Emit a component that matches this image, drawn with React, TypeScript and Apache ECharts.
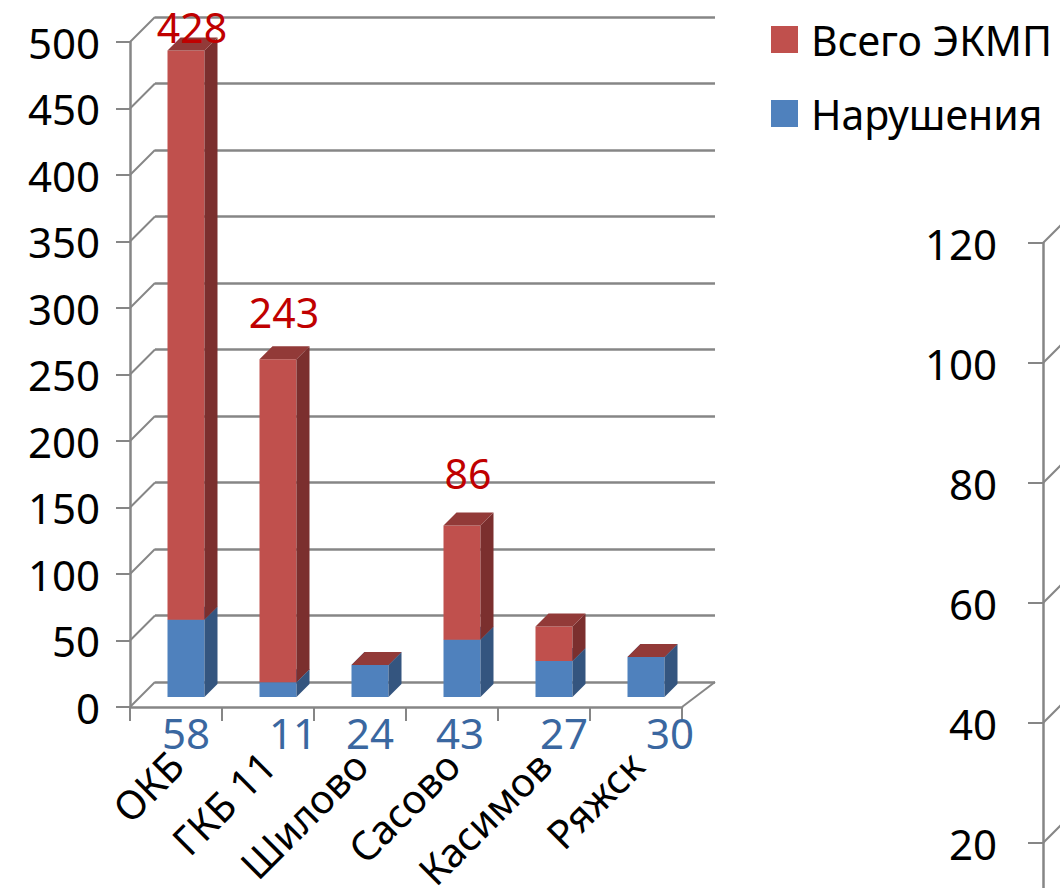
import React, { useEffect, useRef } from "react";
import * as echarts from "echarts";

const categories = ["ОКБ", "ГКБ 11", "Шилово", "Сасово", "Касимов", "Ряжск"];
const violations = [58, 11, 24, 43, 27, 30]; // Нарушения
const totalEkmp = [428, 243, 0, 86, 26, 0]; // Всего ЭКМП (stacked on top)
const leftTicks = [0, 50, 100, 150, 200, 250, 300, 350, 400, 450, 500];
const rightTicks = [0, 20, 40, 60, 80, 100, 120];

// label style tweaks (pixel offsets only)
const blueLabelDx = [0, 15, 0, -2, 10, 24];
const redLabelLift = [24, 47, 30, 52, 30, 30];

const FONT = "Noto Sans";
const GRID_COLOR = "#868686";
const DX = 25;
const DY = -25;
const BX = 10;
const BY = -10;
const BW = 37;
const BD = 13;

const BLUE = { front: "#4F81BD", side: "#34557F", top: "#3F6A9E" };
const RED = { front: "#C0504D", side: "#7B2F2E", top: "#923A38" };

function makeBarRender(col: typeof BLUE, isRed: boolean) {
  return (params: any, api: any) => {
    const i = api.value(0);
    const base = api.value(1);
    const val = api.value(2);
    const pb = api.coord([i, base]);
    const pt = api.coord([i, base + val]);
    const p0 = api.coord([i, 0]);
    const cx = pb[0] + BX;
    const yb = pb[1] + BY;
    const yt = pt[1] + BY;
    const x0 = cx - BW / 2;
    const x1 = cx + BW / 2;
    const children: any[] = [
      {
        type: "rect",
        shape: { x: x0, y: yt, width: BW, height: Math.max(0, yb - yt) },
        style: { fill: col.front },
      },
      {
        type: "polygon",
        shape: { points: [[x1, yb], [x1 + BD, yb - BD], [x1 + BD, yt - BD], [x1, yt]] },
        style: { fill: col.side },
      },
      {
        type: "polygon",
        shape: { points: [[x0, yt], [x1, yt], [x1 + BD, yt - BD], [x0 + BD, yt - BD]] },
        style: { fill: col.top },
      },
    ];
    if (isRed) {
      if (val >= 50) {
        children.push({
          type: "text",
          x: cx + 6,
          y: yt - redLabelLift[i],
          style: {
            text: String(val),
            fill: "#C00000",
            fontSize: 41,
            fontFamily: FONT,
            align: "center",
            verticalAlign: "middle",
          },
        });
      }
    } else {
      children.push({
        type: "text",
        x: cx + blueLabelDx[i],
        y: p0[1] + 25,
        style: {
          text: String(val),
          fill: "#3A67A0",
          fontSize: 42,
          fontFamily: FONT,
          align: "center",
          verticalAlign: "middle",
        },
      });
    }
    return { type: "group", children };
  };
}

function diagRender(withFloorEdge: boolean, backWidth: number) {
  return (params: any, api: any) => {
    const v = api.value(0);
    const cs = params.coordSys;
    const y = api.coord([0, v])[1];
    const children: any[] = [
      {
        type: "line",
        shape: { x1: cs.x, y1: y, x2: cs.x + DX, y2: y + DY },
        style: { stroke: GRID_COLOR, lineWidth: 2 },
      },
    ];
    if (withFloorEdge && v === 0) {
      children.push({
        type: "line",
        shape: { x1: cs.x + cs.width, y1: y, x2: cs.x + DX + backWidth, y2: y + DY },
        style: { stroke: GRID_COLOR, lineWidth: 2 },
      });
    }
    return { type: "group", children };
  };
}

export default function App() {
  const ref = useRef<HTMLDivElement>(null);
  useEffect(() => {
    if (!ref.current) return;
    const chart = echarts.init(ref.current, null, { renderer: "svg" });
    const backWidth = 560;
    chart.setOption({
      animation: false,
      backgroundColor: "#ffffff",
      textStyle: { fontFamily: FONT },
      legend: {
        orient: "vertical",
        left: 771,
        top: 19,
        itemWidth: 27,
        itemHeight: 27,
        itemGap: 33,
        icon: "rect",
        padding: 0,
        data: ["Всего ЭКМП", "Нарушения"],
        textStyle: {
          fontSize: 41,
          color: "#000",
          fontFamily: FONT,
          lineHeight: 27,
          padding: [0, 0, 0, 8],
        },
      },
      grid: [
        { left: 130, top: 42, width: 552, height: 665, outerBoundsMode: "none", containLabel: false },
        { left: 130 + DX, top: 42 + DY, width: backWidth, height: 665, outerBoundsMode: "none", containLabel: false },
        { left: 1043, top: 243, width: 200, height: 720, outerBoundsMode: "none", containLabel: false },
      ],
      xAxis: [
        {
          gridIndex: 0,
          type: "category",
          data: categories,
          axisLine: { lineStyle: { color: GRID_COLOR, width: 2.5 } },
          axisTick: { show: true, length: 14, lineStyle: { color: GRID_COLOR, width: 2 } },
          axisLabel: {
            rotate: 45,
            interval: 0,
            margin: 51,
            fontSize: 40,
            color: "#000",
            fontFamily: FONT,
          },
        },
        { gridIndex: 1, type: "category", data: categories, show: false },
        { gridIndex: 2, type: "category", data: [""], show: false },
      ],
      yAxis: [
        {
          gridIndex: 0,
          type: "value",
          min: 0,
          max: 500,
          interval: 50,
          axisLine: { show: true, lineStyle: { color: GRID_COLOR, width: 2.5 } },
          axisTick: { show: true, length: 14, lineStyle: { color: GRID_COLOR, width: 2 } },
          splitLine: { show: false },
          axisLabel: { fontSize: 42, color: "#000", margin: 30, fontFamily: FONT },
        },
        {
          gridIndex: 1,
          type: "value",
          min: 0,
          max: 500,
          interval: 50,
          axisLine: { show: false },
          axisTick: { show: false },
          axisLabel: { show: false },
          splitLine: { show: true, lineStyle: { color: GRID_COLOR, width: 2.5 } },
        },
        {
          gridIndex: 2,
          type: "value",
          min: 0,
          max: 120,
          interval: 20,
          axisLine: { show: true, lineStyle: { color: GRID_COLOR, width: 2.5 } },
          axisTick: { show: true, length: 15, lineStyle: { color: GRID_COLOR, width: 2 } },
          splitLine: { show: false },
          axisLabel: {
            fontSize: 42,
            color: "#000",
            margin: 46,
            fontFamily: FONT,
            showMinLabel: false,
          },
        },
      ],
      series: [
        {
          type: "custom",
          name: "diag-left",
          xAxisIndex: 0,
          yAxisIndex: 0,
          data: leftTicks.map((v) => [v]),
          encode: { y: 0 },
          renderItem: diagRender(true, backWidth),
          silent: true,
          clip: false,
          z: 2,
        },
        {
          type: "custom",
          name: "diag-right",
          xAxisIndex: 2,
          yAxisIndex: 2,
          data: rightTicks.map((v) => [v]),
          encode: { y: 0 },
          renderItem: diagRender(false, 0),
          silent: true,
          clip: false,
          z: 2,
        },
        {
          type: "custom",
          name: "Нарушения",
          xAxisIndex: 0,
          yAxisIndex: 0,
          itemStyle: { color: BLUE.front },
          data: categories.map((_, i) => [i, 0, violations[i]]),
          encode: { x: 0, y: 2 },
          renderItem: makeBarRender(BLUE, false),
          clip: false,
          z: 10,
        },
        {
          type: "custom",
          name: "Всего ЭКМП",
          xAxisIndex: 0,
          yAxisIndex: 0,
          itemStyle: { color: RED.front },
          data: categories.map((_, i) => [i, violations[i], totalEkmp[i]]),
          encode: { x: 0, y: 2 },
          renderItem: makeBarRender(RED, true),
          clip: false,
          z: 11,
        },
      ],
    });
    return () => chart.dispose();
  }, []);
  return (
    <div
      ref={ref}
      style={{ position: "absolute", left: 0, top: 0, width: 1060, height: 888 }}
    />
  );
}
